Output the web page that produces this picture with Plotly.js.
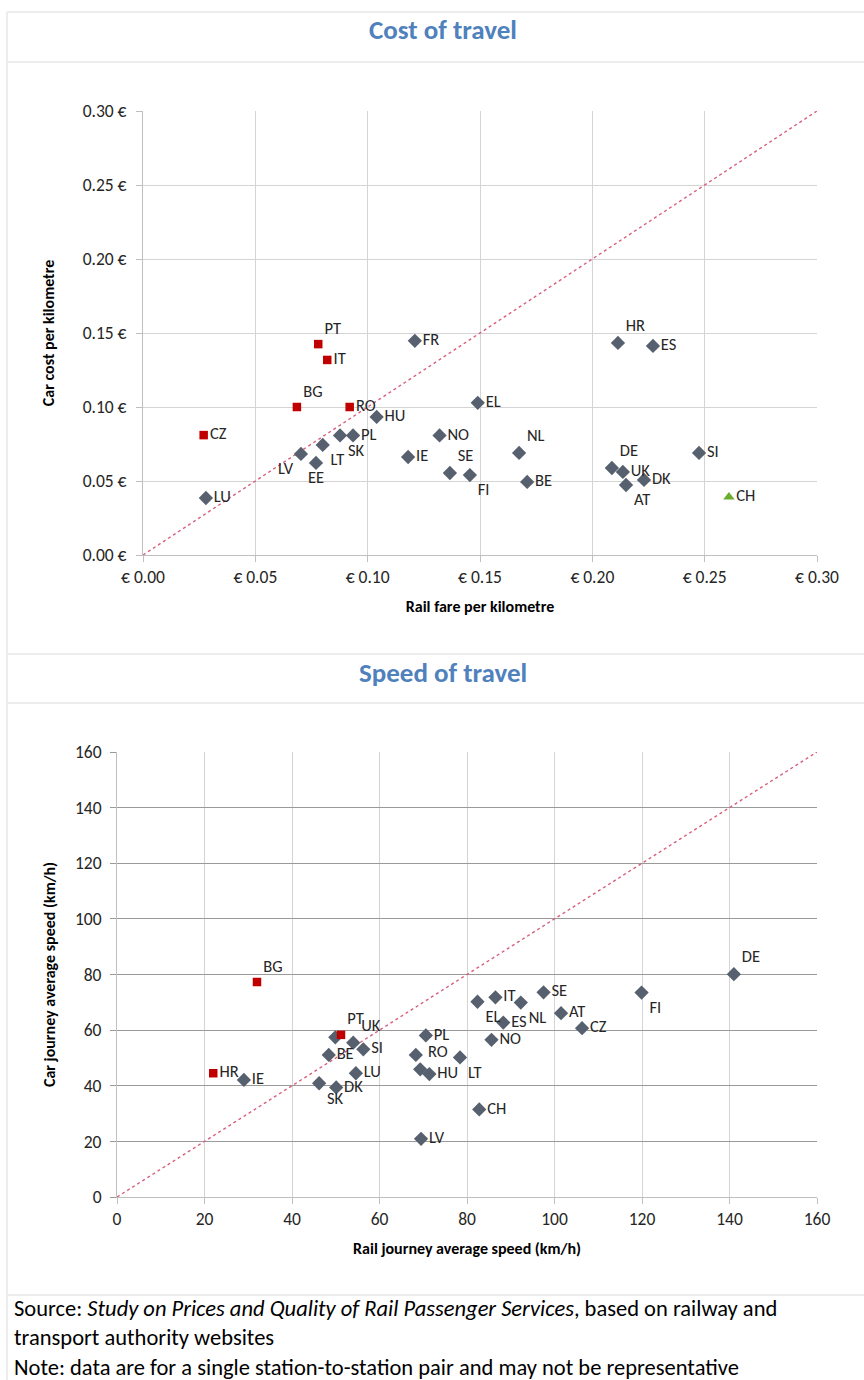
<!DOCTYPE html>
<html>
<head>
<meta charset="utf-8">
<script src="https://cdn.plot.ly/plotly-3.0.1.min.js"></script>
<style>
html,body{margin:0;padding:0;background:#fff;}
#chart{width:864px;height:1380px;}
</style>
</head>
<body>
<div id="chart"></div>
<script>
// ---------- Cost of travel (EUR per km) ----------
var costRedCountries = ["PT","IT","BG","RO","CZ"];
var costRedRail      = [0.078,0.082,0.0685,0.092,0.027];
var costRedCar       = [0.1425,0.1318,0.100,0.100,0.081];
var costRedPos       = ["top right","middle right","top right","middle right","middle right"];

var costCountries = ["FR","EL","HU","NO","PL","SK","LT","LV","EE","IE","SE","FI","NL","BE","LU","HR","ES","DE","UK","DK","AT","SI"];
var costRail      = [0.121,0.149,0.104,0.132,0.0935,0.0877,0.080,0.0703,0.077,0.118,0.1366,0.1455,0.1674,0.171,0.028,0.2114,0.227,0.2087,0.2136,0.223,0.215,0.2475];
var costCar       = [0.1447,0.1028,0.0933,0.0808,0.0808,0.0808,0.0744,0.0683,0.0622,0.0662,0.0554,0.054,0.069,0.0494,0.0385,0.1433,0.1413,0.0588,0.0561,0.0507,0.0473,0.069];
var costPos       = ["middle right","middle right","middle right","middle right","middle right","bottom right","bottom right","bottom left","bottom center","middle right","top right","bottom right","top right","middle right","middle right","top right","middle right","top right","middle right","middle right","bottom right","middle right"];

var costGreenCountries = ["CH"];
var costGreenRail      = [0.2608];
var costGreenCar       = [0.0392];

var costTickVals = [0,0.05,0.10,0.15,0.20,0.25,0.30];
var costXTickText = ["€ 0.00","€ 0.05","€ 0.10","€ 0.15","€ 0.20","€ 0.25","€ 0.30"];
var costYTickText = ["0.00 €","0.05 €","0.10 €","0.15 €","0.20 €","0.25 €","0.30 €"];
var costDiag = [0,0.30];

// ---------- Speed of travel (km/h) ----------
var speedRedCountries = ["BG","PT","HR"];
var speedRedRail      = [32.0,51.2,22.0];
var speedRedCar       = [77.3,58.3,44.5];
var speedRedPos       = ["top right","top right","middle right"];

var speedCountries = ["IE","UK","SI","BE","LU","DK","SK","PL","RO","HU","LT","LV","CH","EL","IT","NL","SE","ES","AT","CZ","NO","FI","DE","",""];
var speedRail      = [29.0,54.0,56.3,48.4,54.6,50.1,46.2,70.6,69.3,71.4,78.4,69.5,82.8,82.4,86.5,92.3,97.5,88.3,101.5,106.3,85.6,119.9,141.0,49.9,68.3];
var speedCar       = [42.1,55.5,53.1,51.1,44.5,39.4,40.9,58.1,45.9,44.2,50.2,20.9,31.5,70.2,71.8,69.9,73.6,62.7,66.1,60.7,56.5,73.5,80.1,57.4,51.1];
var speedPos       = ["middle right","top right","middle right","middle right","middle right","middle right","bottom right","middle right","top right","middle right","bottom right","middle right","middle right","bottom right","middle right","bottom right","middle right","middle right","middle right","middle right","middle right","bottom right","top right","middle right","middle right"];

var speedTickVals = [0,20,40,60,80,100,120,140,160];
var speedTickText = ["0","20","40","60","80","100","120","140","160"];
var speedDiag = [0,160];

// ---------- notes ----------
var noteLines = [
  "Source: <i>Study on Prices and Quality of Rail Passenger Services</i>, based on railway and",
  "transport authority websites",
  "Note: data are for a single station-to-station pair and may not be representative"
];

// ---------- styling ----------
var FONT = "Carlito, 'Liberation Sans Narrow', 'Open Sans', sans-serif";
var DIAMOND = "#56606e";
var RED = "#c00000";
var GREEN = "#6aac2c";
var PINK = "#d8607c";
var labelFont = {family: FONT, size: 16.5, color: "#262626"};

function pts(x, y, txt, pos, sym, col, size, xa, ya) {
  return {type: "scatter", mode: "markers+text", x: x, y: y, text: txt,
    textposition: pos, textfont: labelFont, cliponaxis: false,
    marker: {symbol: sym, color: col, size: size, line: {width: 0}},
    xaxis: xa, yaxis: ya, hoverinfo: "x+y+text", showlegend: false};
}

var data = [
  {type: "scatter", mode: "lines", x: costDiag, y: costDiag, line: {color: PINK, width: 1.4, dash: "3px,3px"}, xaxis: "x", yaxis: "y", hoverinfo: "skip", showlegend: false},
  pts(costRail, costCar, costCountries, costPos, "diamond", DIAMOND, 11, "x", "y"),
  pts(costRedRail, costRedCar, costRedCountries, costRedPos, "square", RED, 8.5, "x", "y"),
  pts(costGreenRail, costGreenCar, costGreenCountries, ["middle right"], "triangle-up", GREEN, 10, "x", "y"),
  {type: "scatter", mode: "lines", x: speedDiag, y: speedDiag, line: {color: PINK, width: 1.4, dash: "3px,3px"}, xaxis: "x2", yaxis: "y2", hoverinfo: "skip", showlegend: false},
  pts(speedRail, speedCar, speedCountries, speedPos, "diamond", DIAMOND, 11, "x2", "y2"),
  pts(speedRedRail, speedRedCar, speedRedCountries, speedRedPos, "square", RED, 8.5, "x2", "y2")
];

var W = 864, H = 1380;
function fx(px){ return px / W; }
function fy(py){ return 1 - py / H; }

var tickFont = {family: FONT, size: 17.5, color: "#262626"};
var titleFont = {family: FONT, size: 16, color: "#000", weight: "bold"};

var layout = {
  width: W, height: H,
  margin: {l: 0, r: 0, t: 0, b: 0},
  paper_bgcolor: "#fff", plot_bgcolor: "#fff",
  font: {family: FONT},
  xaxis: {domain: [fx(143), fx(817)], range: [0, 0.30], tickvals: costTickVals, ticktext: costXTickText,
    showgrid: true, gridcolor: "#d4d4d4", gridwidth: 1, zeroline: false,
    showline: true, linecolor: "#bfbfbf", linewidth: 1, mirror: false,
    ticks: "outside", ticklen: 6, tickcolor: "#bfbfbf", tickfont: tickFont, automargin: false,
    title: {text: "Rail fare per kilometre", font: titleFont, standoff: 13}, anchor: "y"},
  yaxis: {domain: [fy(555), fy(111)], range: [0, 0.30], tickvals: costTickVals, ticktext: costYTickText,
    showgrid: true, gridcolor: "#d4d4d4", gridwidth: 1, zeroline: false,
    showline: true, linecolor: "#bfbfbf", linewidth: 1,
    ticks: "outside", ticklen: 6, tickcolor: "#bfbfbf", tickfont: tickFont, automargin: false,
    ticklabelstandoff: 6,
    title: {text: "Car cost per kilometre", font: titleFont, standoff: 24}, anchor: "x"},
  xaxis2: {domain: [fx(117), fx(817)], range: [0, 160], tickvals: speedTickVals, ticktext: speedTickText,
    showgrid: true, gridcolor: "#d4d4d4", gridwidth: 1, zeroline: false,
    showline: true, linecolor: "#bfbfbf", linewidth: 1,
    ticks: "outside", ticklen: 6, tickcolor: "#bfbfbf", tickfont: tickFont, automargin: false,
    title: {text: "Rail journey average speed (km/h)", font: titleFont, standoff: 13}, anchor: "y2"},
  yaxis2: {domain: [fy(1197), fy(752)], range: [0, 160], tickvals: speedTickVals, ticktext: speedTickText,
    showgrid: true, gridcolor: "#9a9a9a", gridwidth: 1, zeroline: false,
    showline: true, linecolor: "#bfbfbf", linewidth: 1,
    ticks: "outside", ticklen: 6, tickcolor: "#9a9a9a", tickfont: tickFont, automargin: false,
    ticklabelstandoff: 5,
    title: {text: "Car journey average speed (km/h)", font: titleFont, standoff: 15}, anchor: "x2"},
  shapes: [
    {type: "line", xref: "paper", yref: "paper", x0: fx(7), x1: fx(7), y0: 0, y1: fy(12), line: {color: "#ececec", width: 2}},
    {type: "line", xref: "paper", yref: "paper", x0: fx(7), x1: 1, y0: fy(12), y1: fy(12), line: {color: "#ececec", width: 2}},
    {type: "line", xref: "paper", yref: "paper", x0: fx(7), x1: 1, y0: fy(62), y1: fy(62), line: {color: "#ececec", width: 2}},
    {type: "line", xref: "paper", yref: "paper", x0: fx(7), x1: 1, y0: fy(654), y1: fy(654), line: {color: "#ececec", width: 2}},
    {type: "line", xref: "paper", yref: "paper", x0: fx(7), x1: 1, y0: fy(703), y1: fy(703), line: {color: "#ececec", width: 2}},
    {type: "line", xref: "paper", yref: "paper", x0: fx(7), x1: 1, y0: fy(1295), y1: fy(1295), line: {color: "#ececec", width: 2}}
  ],
  annotations: [
    {text: "<b>Cost of travel</b>", xref: "paper", yref: "paper", x: fx(443), y: fy(30), xanchor: "center", yanchor: "middle", showarrow: false,
      font: {family: FONT, size: 27, color: "#4f81bd"}},
    {text: "<b>Speed of travel</b>", xref: "paper", yref: "paper", x: fx(443), y: fy(672), xanchor: "center", yanchor: "middle", showarrow: false,
      font: {family: FONT, size: 27, color: "#4f81bd"}}
  ]
};

var noteY = [1308, 1337.5, 1367];
noteLines.forEach(function(t, i){
  layout.annotations.push({text: t, xref: "paper", yref: "paper", x: fx(12), y: fy(noteY[i]),
    xanchor: "left", yanchor: "middle", align: "left", showarrow: false,
    font: {family: FONT, size: 22.5, color: "#000"}});
});

Plotly.newPlot("chart", data, layout, {displayModeBar: false, staticPlot: true});
</script>
</body>
</html>
